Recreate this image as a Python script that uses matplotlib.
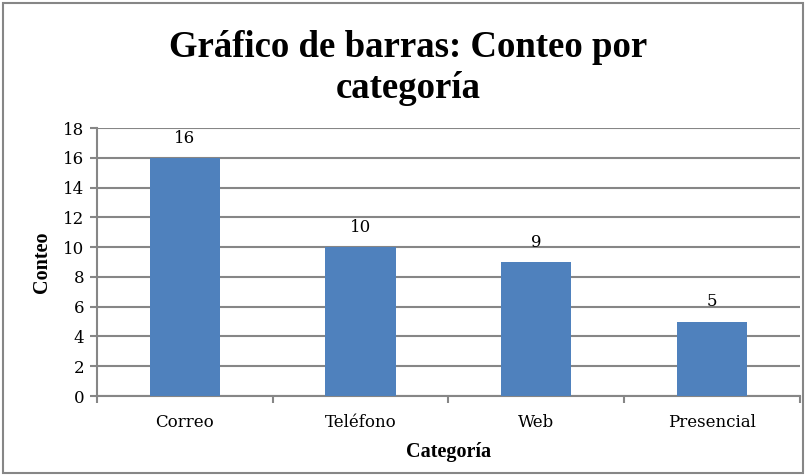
import matplotlib.pyplot as plt
from matplotlib.patches import Rectangle

# -----------------------------------------
# data
# -----------------------------------------
categorias = ["Correo", "Teléfono", "Web", "Presencial"]
conteos = [16, 10, 9, 5]
y_ticks = [0, 2, 4, 6, 8, 10, 12, 14, 16, 18]

bar_color = "#4F81BD"
grid_color = "#868686"
serif = ["DejaVu Serif", "Liberation Serif"]
bold_serif = ["Liberation Serif", "DejaVu Serif"]

fig = plt.figure(figsize=(8.08, 4.76), dpi=100)
ax = fig.add_axes([0.120, 0.168, 0.870, 0.563])

# outer chart border
fig.patches.append(Rectangle((0.004, 0.006), 0.990, 0.988, transform=fig.transFigure,
                             fill=False, edgecolor=grid_color, lw=1.5))

x = range(len(categorias))
bars = ax.bar(x, conteos, width=0.4, color=bar_color, zorder=3)
for b, v in zip(bars, conteos):
    ax.text(b.get_x() + b.get_width() / 2, v + 0.75, str(v), ha="center", va="bottom",
            fontsize=12, family=serif)

ax.set_xlim(-0.5, len(categorias) - 0.5)
ax.set_ylim(0, 18)
ax.set_yticks(y_ticks)
ax.set_yticklabels([str(t) for t in y_ticks], family=serif, fontsize=12)
ax.set_xticks(list(x))
ax.set_xticklabels(categorias, family=serif, fontsize=12)
ax.tick_params(axis="x", length=0, pad=13)
ax.tick_params(axis="y", length=5, width=1.5, color=grid_color, pad=4)

# boundary ticks between categories
ax.set_xticks([i - 0.5 for i in range(len(categorias) + 1)], minor=True)
ax.tick_params(axis="x", which="minor", length=5, width=1.5, color=grid_color)

ax.yaxis.grid(True, color=grid_color, lw=1.5, zorder=0)
ax.set_axisbelow(True)
for s in ["top", "right"]:
    ax.spines[s].set_visible(False)
ax.spines["left"].set_color(grid_color)
ax.spines["left"].set_linewidth(1.5)
ax.spines["bottom"].set_color(grid_color)
ax.spines["bottom"].set_linewidth(1.5)

ax.set_ylabel("Conteo", family=bold_serif, fontsize=14.5, fontweight="bold", labelpad=8)
ax.set_xlabel("Categoría", family=bold_serif, fontsize=14.5, fontweight="bold", labelpad=8)

fig.text(0.505, 0.857, "Gráfico de barras: Conteo por\ncategoría", ha="center", va="center",
         fontsize=26.5, fontweight="bold", family=bold_serif, linespacing=1.2)

fig.savefig("out.png", dpi=100)
